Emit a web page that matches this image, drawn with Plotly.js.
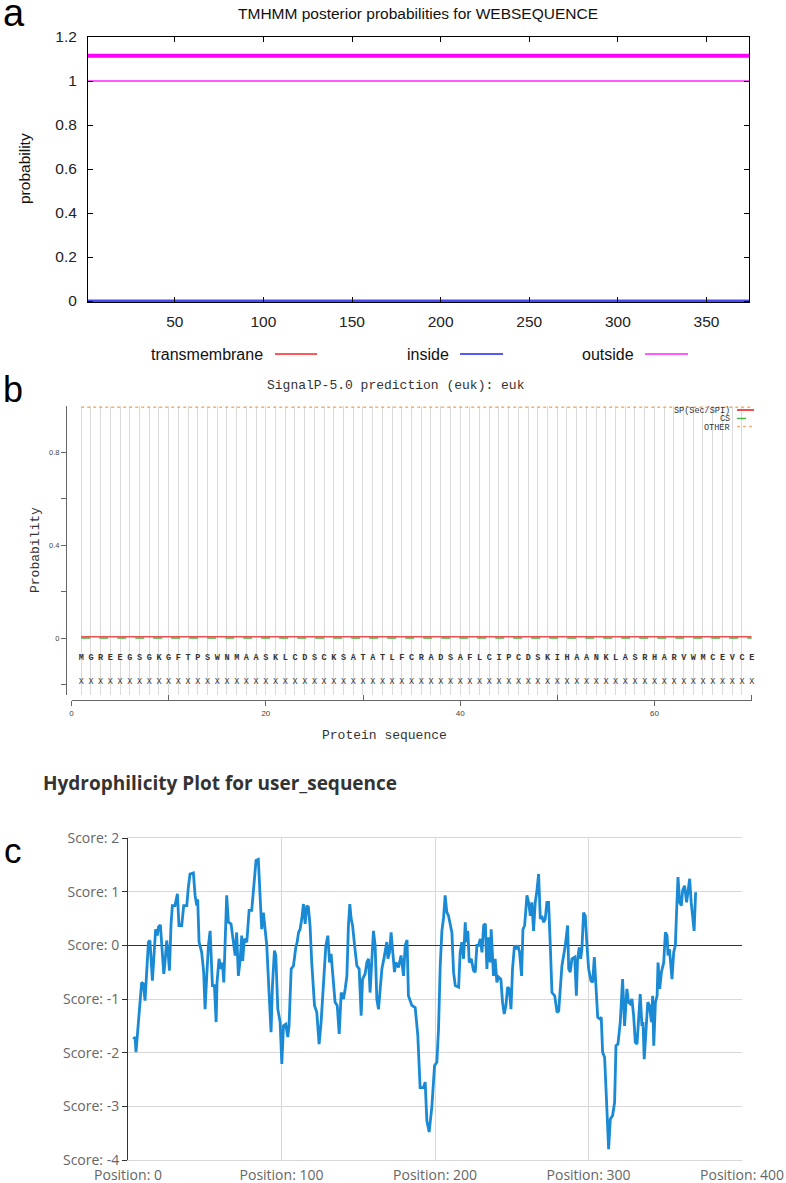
<!DOCTYPE html>
<html>
<head>
<meta charset="utf-8">
<script src="https://cdn.plot.ly/plotly-3.0.1.min.js"></script>
<style>
html,body{margin:0;padding:0;background:#fff;}
#chart{width:786px;height:1183px;}
</style>
</head>
<body>
<div id="chart"></div>
<script>
// ---------------- DATA ----------------
// (a) TMHMM posterior probabilities (flat profile over the whole sequence)
const tmPositions      = [1, 374];
const tmTransmembrane  = [0, 0];
const tmInside         = [0, 0];
const tmOutside        = [1, 1];
const tmOutsideRegion  = [1, 374];   // predicted "outside" segment (start, end)
const tmLegendNames    = ["transmembrane", "inside", "outside"];

// (b) SignalP-5.0
const spSequence = "MGREEGSGKGFTPSWNMAASKLCDSCKSATATLFCRADSAFLCIPCDSKIHAANKLASRHARVWMCEVCE";
const spLabels   = "XXXXXXXXXXXXXXXXXXXXXXXXXXXXXXXXXXXXXXXXXXXXXXXXXXXXXXXXXXXXXXXXXXXXXX";
const spSP = [
  0.006,0.006,0.006,0.006,0.006,0.006,0.006,0.006,0.006,0.006,
  0.006,0.006,0.006,0.006,0.006,0.006,0.006,0.006,0.006,0.006,
  0.006,0.006,0.006,0.006,0.006,0.006,0.006,0.006,0.006,0.006,
  0.006,0.006,0.006,0.006,0.006,0.006,0.006,0.006,0.006,0.006,
  0.006,0.006,0.006,0.006,0.006,0.006,0.006,0.006,0.006,0.006,
  0.006,0.006,0.006,0.006,0.006,0.006,0.006,0.006,0.006,0.006,
  0.006,0.006,0.006,0.006,0.006,0.006,0.006,0.006,0.006,0.006];
const spCS = [
  0.001,0.001,0.001,0.001,0.001,0.001,0.001,0.001,0.001,0.001,
  0.001,0.001,0.001,0.001,0.001,0.001,0.001,0.001,0.001,0.001,
  0.001,0.001,0.001,0.001,0.001,0.001,0.001,0.001,0.001,0.001,
  0.001,0.001,0.001,0.001,0.001,0.001,0.001,0.001,0.001,0.001,
  0.001,0.001,0.001,0.001,0.001,0.001,0.001,0.001,0.001,0.001,
  0.001,0.001,0.001,0.001,0.001,0.001,0.001,0.001,0.001,0.001,
  0.001,0.001,0.001,0.001,0.001,0.001,0.001,0.001,0.001,0.001];
const spOther = [
  0.994,0.994,0.994,0.994,0.994,0.994,0.994,0.994,0.994,0.994,
  0.994,0.994,0.994,0.994,0.994,0.994,0.994,0.994,0.994,0.994,
  0.994,0.994,0.994,0.994,0.994,0.994,0.994,0.994,0.994,0.994,
  0.994,0.994,0.994,0.994,0.994,0.994,0.994,0.994,0.994,0.994,
  0.994,0.994,0.994,0.994,0.994,0.994,0.994,0.994,0.994,0.994,
  0.994,0.994,0.994,0.994,0.994,0.994,0.994,0.994,0.994,0.994,
  0.994,0.994,0.994,0.994,0.994,0.994,0.994,0.994,0.994,0.994];
const spLegendNames = ["SP(Sec/SPI)", "CS", "OTHER"];
const spYTicks = [0, 0.4, 0.8];
const spXTicks = [0, 20, 40, 60];

// (c) Hydrophilicity plot
const hpPos = [
  3.5,4.6,5.2,6.7,7.8,8.9,10.0,11.1,13.3,14.3,15.9,17.2,18.0,19.1,19.8,21.1,21.9,23.3,24.1,25.2,
  26.3,27.0,28.0,28.9,30.6,32.2,33.2,35.0,36.3,38.3,39.3,40.4,42.6,43.7,44.8,45.4,46.3,48.0,49.3,50.2,
  51.3,52.4,53.5,54.1,55.0,56.3,57.4,58.0,59.3,60.6,61.5,62.4,63.2,64.3,65.4,67.1,68.7,69.8,70.8,71.9,
  73.0,74.1,74.7,75.8,77.4,78.9,80.6,81.7,83.4,84.9,86.0,87.1,88.2,89.3,
  90.4,91.9,93.2,94.1,95.4,96.3,97.6,99.1,100.2,101.3,102.8,104.1,104.9,106.3,107.8,109.3,110.2,111.1,112.1,113.2,
  114.3,115.4,116.5,117.5,118.6,119.7,121.5,123.0,124.5,125.8,127.3,128.9,130.2,131.3,132.3,133.4,134.9,136.3,137.6,138.9,
  140.4,141.5,142.6,143.6,144.5,145.4,146.3,147.6,149.1,150.6,151.9,152.8,154.5,155.6,156.7,157.7,158.8,159.9,161.0,162.1,
  163.2,164.3,165.4,166.9,168.0,168.6,169.3,170.4,171.4,172.5,173.6,174.5,176.2,177.9,179.5,180.6,
  181.8,182.7,184.9,187.1,188.8,190.3,192.5,193.6,194.7,196.2,198.0,199.7,201.2,202.3,203.4,204.5,205.6,206.6,207.7,208.8,
  209.9,211.0,212.1,213.2,215.4,216.4,217.5,218.6,219.7,220.3,221.4,222.3,223.6,225.1,226.2,227.3,228.4,229.5,230.6,231.7,
  232.8,233.8,234.9,236.0,236.6,237.5,238.1,239.2,240.3,241.4,242.9,244.0,245.1,246.2,247.3,248.4,249.5,250.5,251.8,252.9,
  254.0,255.1,256.4,257.3,258.4,259.9,261.0,262.1,263.1,264.2,265.3,266.4,267.5,268.6,269.6,270.8,271.8,272.9,274.0,
  275.1,276.2,278.0,279.5,280.6,281.6,282.7,283.8,284.9,286.4,287.1,288.1,289.2,291.0,292.1,292.9,294.0,294.9,295.7,296.8,
  297.9,299.0,300.1,301.6,302.7,303.8,304.9,306.0,307.3,308.3,309.2,310.5,311.8,313.1,314.2,315.7,317.0,317.9,319.2,320.7,
  322.2,323.5,325.0,326.1,327.2,328.3,329.4,330.5,331.6,332.6,333.7,334.8,335.5,336.3,337.5,338.6,339.7,341.0,341.8,342.5,
  343.6,344.7,345.3,346.4,347.5,349.0,350.1,351.2,351.8,352.7,353.5,354.4,355.5,356.6,357.2,358.3,359.4,360.5,361.3,362.6,
  363.9,364.8,365.9,366.9,367.9,368.8,369.8];
const hpScore = [
  -1.75,-1.71,-1.99,-1.43,-1.06,-0.69,-0.72,-1.03,0.06,0.09,-0.66,0.00,0.30,0.18,0.34,0.38,0.00,-0.53,-0.32,0.09,
  -0.19,-0.47,0.37,0.74,0.74,0.96,0.37,0.37,0.74,0.74,1.08,1.33,1.35,0.93,0.74,0.86,0.06,-0.13,-0.50,-1.19,
  -0.57,0.00,0.27,-0.13,-0.75,-0.75,-1.43,-0.69,-0.25,-0.44,-0.32,-0.69,0.00,0.93,0.43,0.40,0.06,-0.19,0.24,-0.57,
  -0.29,0.18,-0.29,0.12,0.06,0.65,0.65,1.05,1.58,1.60,1.05,0.30,0.61,0.30,
  0.00,-0.88,-1.62,-0.75,-0.10,-0.19,-1.19,-1.43,-2.21,-1.50,-1.47,-1.71,-1.50,-0.44,-0.38,-0.04,0.06,0.24,0.30,0.49,
  0.77,0.40,0.74,0.71,0.37,-0.32,-1.12,-1.25,-1.84,-1.43,-0.75,0.00,0.18,-0.32,-0.16,-0.57,-1.06,-1.12,-1.65,-0.88,
  -1.00,-0.81,-0.57,0.37,0.77,0.49,0.37,0.00,-0.38,-0.44,-1.31,-0.63,-0.53,-0.32,-0.25,-0.88,-0.29,0.27,0.00,-1.00,
  -1.19,-0.75,-0.44,-0.22,-0.07,0.06,-0.25,-0.13,0.24,-0.13,-0.50,-0.32,-0.41,-0.19,-0.57,0.00,
  0.10,-0.94,-1.12,-1.16,-1.68,-2.65,-2.65,-2.55,-3.27,-3.48,-2.99,-2.24,-2.18,-1.56,-0.38,0.27,0.52,0.93,0.62,0.55,
  0.37,0.24,-0.50,-0.75,-0.78,-0.13,0.06,-0.25,0.43,0.06,0.27,-0.32,-0.25,-0.47,-0.50,0.00,0.00,0.12,-0.13,0.37,
  0.40,-0.44,0.15,-0.32,0.30,-0.13,-0.57,-0.25,-0.69,-0.59,-0.63,-1.06,-1.28,-1.12,-0.78,-0.81,-1.19,-0.44,0.00,-0.07,
  0.00,-0.13,-0.57,0.30,0.37,0.93,0.80,0.55,0.80,0.27,0.80,1.02,1.33,0.49,0.55,0.43,0.49,0.80,0.80,
  0.00,-0.88,-0.94,-1.25,-1.22,-0.81,-0.38,-0.19,0.00,0.37,-0.44,-0.50,-0.25,-0.22,-0.94,-0.25,-0.04,-0.25,-0.07,0.61,
  0.55,0.00,-0.44,-0.66,-0.69,-0.22,-0.69,-1.34,-1.37,-1.34,-1.99,-2.09,-2.93,-3.80,-3.24,-3.17,-2.93,-1.87,-1.84,-1.43,
  -0.63,-1.50,-0.81,-1.06,-1.09,-1.00,-1.31,-1.81,-1.84,-1.43,-0.91,-1.50,-1.43,-2.12,-1.43,-1.06,-1.12,-1.43,-0.94,-1.87,
  -1.06,-0.94,-0.32,-0.81,-0.50,-0.32,0.24,0.18,-0.19,-0.07,-0.32,-0.63,-0.13,0.00,0.49,1.27,0.80,0.74,1.02,1.11,
  0.80,1.02,1.24,0.80,0.46,0.27,0.99];
const hpXTicks = [0, 100, 200, 300, 400];
const hpYTicks = [-4, -3, -2, -1, 0, 1, 2];

// ---------------- LAYOUT HELPERS ----------------
const W = 786, H = 1183;
const px = v => v / W;
const py = v => 1 - v / H;
const SANS = "Liberation Sans, Arial, sans-serif";
const MONO = "Liberation Mono, Courier New, monospace";
const OPEN = "Open Sans, Noto Sans, sans-serif";

const spPositions = spSequence.split('').map((_, i) => i + 1);
const REGION_BAR_LEVEL = 1.115;
const SEQ_ROW_Y = -0.086, LABEL_ROW_Y = -0.188;

// ---------------- TRACES ----------------
const traces = [
  // (a)
  {x: tmPositions, y: tmTransmembrane, xaxis:'x', yaxis:'y', mode:'lines',
   line:{color:'#ff0000', width:1.5}, hoverinfo:'skip', showlegend:false},
  {x: tmPositions, y: tmInside, xaxis:'x', yaxis:'y', mode:'lines',
   line:{color:'#4848f8', width:3}, hoverinfo:'skip', showlegend:false},
  {x: tmPositions, y: tmOutside, xaxis:'x', yaxis:'y', mode:'lines',
   line:{color:'#ff22ff', width:1.5}, hoverinfo:'skip', showlegend:false},
  {x: tmOutsideRegion, y: tmOutsideRegion.map(() => REGION_BAR_LEVEL), xaxis:'x', yaxis:'y', mode:'lines',
   line:{color:'#ff00ff', width:4}, hoverinfo:'skip', showlegend:false},
  // (b)
  {x: spPositions, y: spOther, xaxis:'x2', yaxis:'y2', mode:'lines',
   line:{color:'#ffae60', width:1.5, dash:'dot'}, hoverinfo:'skip', showlegend:false},
  {x: spPositions, y: spCS, xaxis:'x2', yaxis:'y2', mode:'lines',
   line:{color:'#44b444', width:1.5, dash:'dash'}, hoverinfo:'skip', showlegend:false},
  {x: spPositions, y: spSP, xaxis:'x2', yaxis:'y2', mode:'lines',
   line:{color:'#ee5050', width:1.5}, hoverinfo:'skip', showlegend:false},
  {x: spPositions, y: spPositions.map(() => SEQ_ROW_Y), text: spSequence.split(''),
   xaxis:'x3', yaxis:'y2', mode:'text', cliponaxis:false,
   textfont:{family:MONO, size:8.5, color:'#333', weight:'bold'}, hoverinfo:'skip', showlegend:false},
  {x: spPositions, y: spPositions.map(() => LABEL_ROW_Y), text: spLabels.split(''),
   xaxis:'x3', yaxis:'y2', mode:'text', cliponaxis:false,
   textfont:{family:MONO, size:8.5, color:'#333'}, hoverinfo:'skip', showlegend:false},
  // (c)
  {x: hpPos, y: hpScore, xaxis:'x4', yaxis:'y4', mode:'lines',
   line:{color:'#1a8ad4', width:2.8}, hoverinfo:'skip', showlegend:false}
];

// ---------------- LAYOUT ----------------
const ann = (text, x, y, opts) => Object.assign({text, x, y, xref:'paper', yref:'paper',
  showarrow:false, xanchor:'center', yanchor:'middle'}, opts);

const annotations = [
  // panel labels
  ann('a', px(1), py(13), {xanchor:'left', font:{family:SANS, size:38, color:'#000'}}),
  ann('b', px(1), py(390), {xanchor:'left', font:{family:SANS, size:36, color:'#000'}}),
  ann('c', px(2), py(851), {xanchor:'left', font:{family:SANS, size:35, color:'#000'}}),
  // (a)
  ann('TMHMM posterior probabilities for WEBSEQUENCE', px(417.5), py(14), {font:{family:SANS, size:15.5, color:'#111'}}),
  ann('probability', px(25), py(169), {textangle:-90, font:{family:SANS, size:15.5, color:'#111'}}),
  ann(tmLegendNames[0], px(265), py(354), {xanchor:'right', font:{family:SANS, size:16, color:'#111'}}),
  ann(tmLegendNames[1], px(451), py(354), {xanchor:'right', font:{family:SANS, size:16, color:'#111'}}),
  ann(tmLegendNames[2], px(636), py(354), {xanchor:'right', font:{family:SANS, size:16, color:'#111'}}),
  // (b)
  ann('SignalP-5.0 prediction (euk): euk', px(396), py(385), {font:{family:MONO, size:13, color:'#333'}}),
  ann('Probability', px(35), py(550), {textangle:-90, font:{family:MONO, size:13, color:'#333'}}),
  ann('Protein sequence', px(384.5), py(735), {font:{family:MONO, size:13, color:'#333'}}),
  ann(spLegendNames[0], px(732), py(410.5), {xanchor:'right', font:{family:MONO, size:8.5, color:'#333'}}),
  ann(spLegendNames[1], px(732), py(419), {xanchor:'right', font:{family:MONO, size:8.5, color:'#333'}}),
  ann(spLegendNames[2], px(732), py(427.5), {xanchor:'right', font:{family:MONO, size:8.5, color:'#333'}}),
  // (c)
  ann('Hydrophilicity Plot for user_sequence', px(41), py(783), {xanchor:'left',
    font:{family:OPEN, size:19, color:'#333', weight:'bold'}})
];

const lineShape = (x0, x1, y, color, width, dash) => ({type:'line', xref:'paper', yref:'paper',
  x0:px(x0), x1:px(x1), y0:py(y), y1:py(y), line:{color, width, dash: dash || 'solid'}});

const shapes = [
  lineShape(275, 317, 354, '#ff2020', 1.5),
  lineShape(460, 503, 354, '#2020ff', 1.5),
  lineShape(645, 688, 354, '#ff22ff', 1.5),
  lineShape(737, 754, 410, '#ee5050', 2),
  lineShape(737, 754, 418.5, '#44b444', 1.5, 'dash'),
  lineShape(737, 754, 426.5, '#ffae60', 1.5, 'dot')
];

const layout = {
  width: W, height: H,
  margin: {l:0, r:0, t:0, b:0},
  paper_bgcolor: '#fff', plot_bgcolor: 'rgba(0,0,0,0)',
  showlegend: false,
  annotations, shapes,
  // (a)
  xaxis: {domain:[px(88), px(749)], range:[1, 374], anchor:'y',
    tick0:0, dtick:50, ticks:'inside', ticklen:5, tickcolor:'#000',
    showline:true, linecolor:'#000', linewidth:1, mirror:'ticks',
    showgrid:false, zeroline:false, ticklabelstandoff:5,
    tickfont:{family:SANS, size:15.5, color:'#222'}},
  yaxis: {domain:[py(302.1), py(37)], range:[-0.005, 1.2], anchor:'x',
    tick0:0, dtick:0.2, ticks:'inside', ticklen:5, tickcolor:'#000',
    showline:true, linecolor:'#000', linewidth:1, mirror:'ticks',
    showgrid:false, zeroline:false, ticklabelstandoff:7,
    tickfont:{family:SANS, size:15.5, color:'#222'}},
  // (b) grid/data axis
  xaxis2: {domain:[px(67), px(752)], range:[-0.463, 70.05], anchor:'y2',
    tickmode:'array', tickvals: spPositions, showticklabels:false, ticks:'',
    showgrid:true, gridcolor:'#dadada', gridwidth:1, zeroline:false, showline:false},
  yaxis2: {domain:[py(695), py(405.5)], range:[-0.245, 1.002], anchor:'x2',
    tickmode:'array', tickvals: spYTicks, ticktext: spYTicks.map(String),
    ticks:'outside', ticklen:5, tickcolor:'#666', showline:true, linecolor:'#666', linewidth:1,
    showgrid:false, zeroline:false,
    minor:{tickmode:'array', tickvals:[-0.2, 0.2, 0.6], ticks:'outside', ticklen:5, tickcolor:'#666'},
    tickfont:{family:SANS, size:7.5, color:'#444'}},
  // (b) labelled x axis
  xaxis3: {domain:[px(71.5), px(751.7)], range:[0, 70], anchor:'free', position: py(700),
    tickmode:'array', tickvals: spXTicks, ticktext: spXTicks.map(String),
    ticks:'outside', ticklen:5, tickcolor:'#666', showline:true, linecolor:'#666', linewidth:1,
    showgrid:false, zeroline:false,
    minor:{tickmode:'array', tickvals:[10, 30, 50, 70], ticks:'inside', ticklen:5, tickcolor:'#666'},
    tickfont:{family:SANS, size:8, color:'#444'}},
  // (c)
  xaxis4: {domain:[px(128), px(742)], range:[0, 400], anchor:'y4',
    tickmode:'array', tickvals: hpXTicks, ticktext: hpXTicks.map(v => 'Position: ' + v),
    ticks:'', showgrid:true, gridcolor:'#d8d8d8', gridwidth:1,
    showline:true, linecolor:'#d8d8d8', mirror:true, zeroline:false, ticklabelstandoff:2,
    tickfont:{family:OPEN, size:14, color:'#666'}},
  yaxis4: {domain:[py(1160), py(838)], range:[-4, 2], anchor:'x4',
    tickmode:'array', tickvals: hpYTicks, ticktext: hpYTicks.map(v => 'Score: ' + v),
    ticks:'outside', ticklen:5, tickcolor:'#333',
    showgrid:true, gridcolor:'#d8d8d8', gridwidth:1,
    showline:true, linecolor:'#333', linewidth:1,
    zeroline:true, zerolinecolor:'#333', zerolinewidth:1.5,
    tickfont:{family:OPEN, size:14, color:'#666'}}
};

Plotly.newPlot('chart', traces, layout, {staticPlot:true, displayModeBar:false});
</script>
</body>
</html>
